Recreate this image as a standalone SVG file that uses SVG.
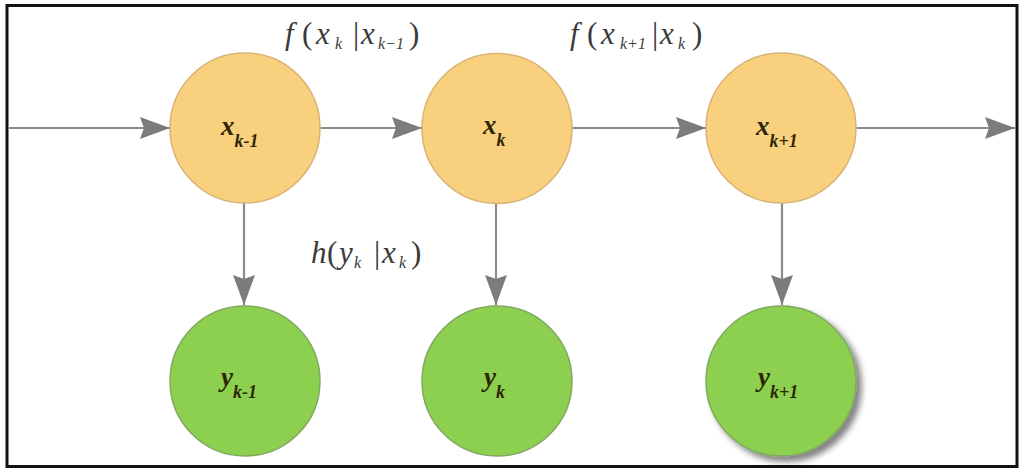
<svg xmlns="http://www.w3.org/2000/svg" width="1024" height="476" viewBox="0 0 1024 476">
<style>
.frame{fill:#fff;stroke:#111;stroke-width:3}
.xn{fill:#F9D07E;stroke:#D9B274;stroke-width:1.5}
.yn{fill:#8DD04F;stroke:#7FA860;stroke-width:1.5}
.edge{stroke:#8a8a8a;stroke-width:2.2;fill:none}
text{font-family:'Liberation Serif','Times New Roman',serif}
.lbl{font-style:italic;font-weight:bold;fill:#2e2608}
.big{font-size:27px}
.sub{font-size:18px}
.eq{font-style:italic;fill:#3a3a3a;font-size:31px}
.eqs{font-size:16px}
.par{font-style:normal}
</style>
<defs>
<marker id="arr" markerWidth="30" markerHeight="22" refX="30" refY="11" orient="auto" markerUnits="userSpaceOnUse">
<path d="M0,0 L30,11 L0,22 L4,11 Z" fill="#7c7c7c"/>
</marker>
<filter id="sh" x="-20%" y="-20%" width="150%" height="150%">
<feGaussianBlur in="SourceAlpha" stdDeviation="3"/>
<feOffset dx="5" dy="5" result="b"/>
<feComponentTransfer><feFuncA type="linear" slope="0.5"/></feComponentTransfer>
<feMerge><feMergeNode/><feMergeNode in="SourceGraphic"/></feMerge>
</filter>
</defs>
<rect class="frame" x="7" y="5.5" width="1010" height="461"/>
<g id="connectors">
<line class="edge" x1="9" y1="128" x2="170" y2="128" marker-end="url(#arr)"/>
<line class="edge" x1="320" y1="128" x2="422" y2="128" marker-end="url(#arr)"/>
<line class="edge" x1="572" y1="128" x2="706" y2="128" marker-end="url(#arr)"/>
<line class="edge" x1="856" y1="128" x2="1015" y2="128" marker-end="url(#arr)"/>
<line class="edge" x1="244" y1="203" x2="244" y2="305" marker-end="url(#arr)"/>
<line class="edge" x1="496" y1="203" x2="496" y2="305" marker-end="url(#arr)"/>
<line class="edge" x1="782" y1="203" x2="782" y2="305" marker-end="url(#arr)"/>
</g>
<g id="label-f1">
<text class="eq" y="44"><tspan x="285">f</tspan><tspan class="par" x="302">(</tspan><tspan x="316">x</tspan><tspan class="eqs" x="335" y="49">k</tspan><tspan class="par" x="353" y="44">|</tspan><tspan x="361">x</tspan><tspan class="eqs" x="378" y="49">k−1</tspan><tspan class="par" x="409" y="44">)</tspan></text>
</g>
<g id="label-f2">
<text class="eq" y="44"><tspan x="570">f</tspan><tspan class="par" x="587">(</tspan><tspan x="601">x</tspan><tspan class="eqs" x="620" y="49">k+1</tspan><tspan class="par" x="652" y="44">|</tspan><tspan x="660">x</tspan><tspan class="eqs" x="678" y="49">k</tspan><tspan class="par" x="692" y="44">)</tspan></text>
</g>
<g id="label-h">
<text class="eq" y="263"><tspan x="311">h</tspan><tspan class="par" x="327">(</tspan><tspan x="339">y</tspan><tspan class="eqs" x="354" y="268">k</tspan><tspan class="par" x="374" y="263">|</tspan><tspan x="382">x</tspan><tspan class="eqs" x="399" y="268">k</tspan><tspan class="par" x="411" y="263">)</tspan></text>
</g>
<g id="node-xkm1">
<circle class="xn" cx="245" cy="128" r="75"/>
<text class="lbl big" x="221" y="135">x<tspan class="sub" dy="12">k-1</tspan></text>
</g>
<g id="node-xk">
<circle class="xn" cx="497" cy="128.5" r="75"/>
<text class="lbl big" x="483" y="134">x<tspan class="sub" dy="12">k</tspan></text>
</g>
<g id="node-xkp1">
<circle class="xn" cx="781" cy="128" r="75"/>
<text class="lbl big" x="756" y="135">x<tspan class="sub" dy="12">k+1</tspan></text>
</g>
<g id="node-ykm1">
<circle class="yn" cx="245" cy="381" r="75"/>
<text class="lbl big" x="221" y="386">y<tspan class="sub" dy="12">k-1</tspan></text>
</g>
<g id="node-yk">
<circle class="yn" cx="497" cy="381" r="75"/>
<text class="lbl big" x="484" y="386">y<tspan class="sub" dy="12">k</tspan></text>
</g>
<g id="node-ykp1">
<circle class="yn" cx="781" cy="381" r="75" filter="url(#sh)"/>
<text class="lbl big" x="758" y="386">y<tspan class="sub" dy="12">k+1</tspan></text>
</g>
</svg>
